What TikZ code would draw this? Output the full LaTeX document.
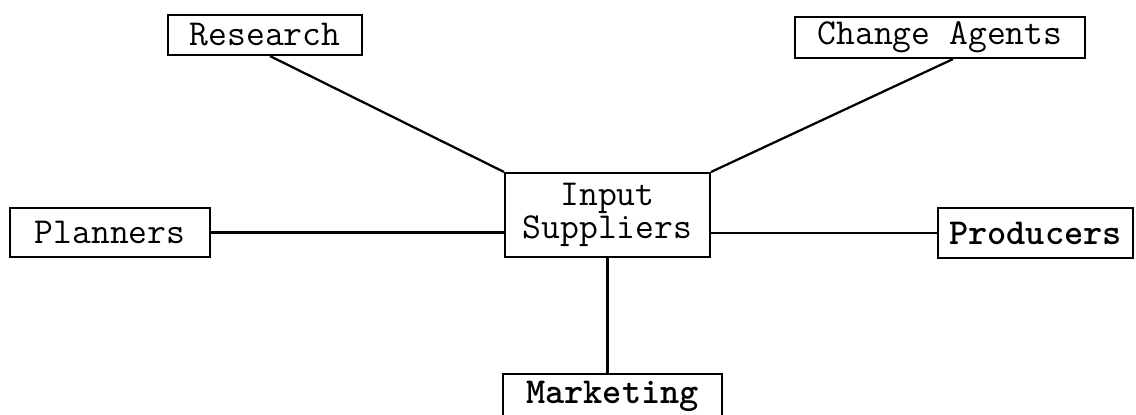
\documentclass[tikz,border=0pt]{standalone}
\usetikzlibrary{calc}
\newcommand{\TypeFont}{\fontsize{26pt}{23.5pt}\selectfont\ttfamily}

\begin{document}
\begin{tikzpicture}[x=0.025cm,y=-0.025cm,
  box/.style={draw,line width=1.5pt,inner sep=0pt,font=\TypeFont,align=center},
  link/.style={line width=1.6pt}]
\useasboundingbox (0,0) rectangle (1136,414);

\node[box,minimum width=194*0.025cm,minimum height=40*0.025cm] (research) at (265,35) {Research};
\node[box,minimum width=290*0.025cm,minimum height=41*0.025cm] (agents) at (940,37.5) {Change Agents};
\node[box,minimum width=200*0.025cm,minimum height=49*0.025cm] (planners) at (110,232.5) {Planners};
\node[box,minimum width=205*0.025cm,minimum height=84*0.025cm] (input) at (607.5,215) {Input\\Suppliers};
\node[box,font=\TypeFont\bfseries,minimum width=195*0.025cm,minimum height=50*0.025cm] (producers) at (1035.5,233) {Producers};
% bottom edge runs off the page
\node[box,font=\TypeFont\bfseries,minimum width=219*0.025cm,text height=0.6cm,text depth=0.6cm,inner ysep=0.125cm,anchor=north] (marketing) at (612.5,373) {Marketing};

\draw[link] ($(research.south)+(5,0)$) -- (input.north west);
\draw[link] ($(agents.south)+(13,0)$) -- (input.north east);
\draw[link] (planners.east) -- (planners.east -| input.west);
\draw[link] (producers.west) -- (producers.west -| input.east);
\draw[link] (input.south) -- (input.south |- marketing.north);
\end{tikzpicture}
\end{document}
